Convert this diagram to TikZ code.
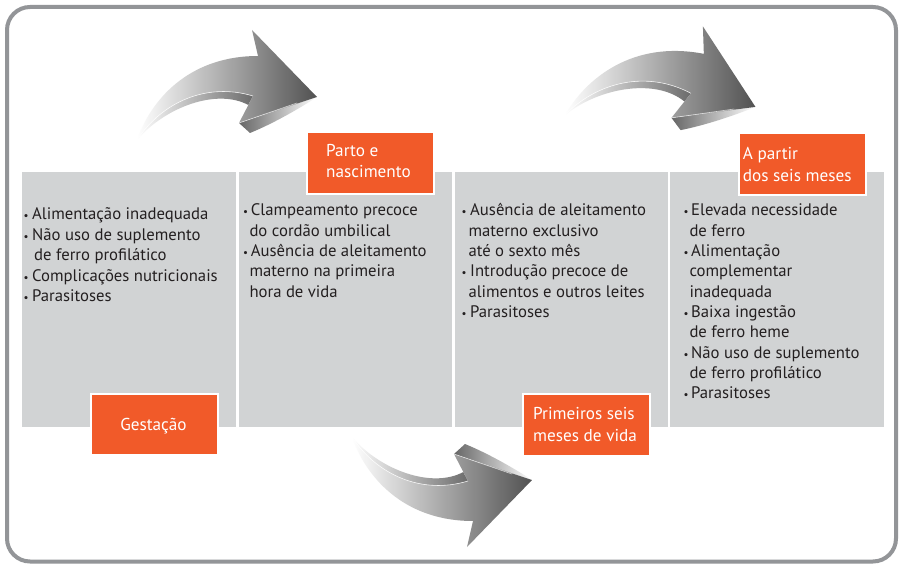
\documentclass[tikz,border=0pt]{standalone}
\usepackage{fontspec}
\setmainfont{PT Sans}
\definecolor{panelgray}{RGB}{209,211,212}
\definecolor{orangebox}{RGB}{241,90,41}
\definecolor{framegray}{RGB}{147,149,152}
\definecolor{txt}{RGB}{35,31,32}
\newcommand{\curvedarrowshape}{%
  % underside band of the shaft
  \shade[left color=white, right color=black!58]
    (0,0) .. controls (28,-33) and (80,-52) .. (111.3,-35) -- (116,-44)
    .. controls (70,-58) and (25,-38) .. (0,0) -- cycle;
  % underside of the head
  \shade[left color=black!60, right color=white]
    (102,-17) -- (113,-7) .. controls (135,-16) and (160,-30) .. (180,-43) -- cycle;
  % top face
  \shade[left color=white, middle color=black!38, right color=black!68]
    (0,0) .. controls (13,-38) and (50,-84) .. (121,-84) -- (115,-110) -- (180,-43)
    -- (102,-17) -- (116,-44) .. controls (70,-58) and (25,-38) .. (0,0) -- cycle;
  % highlights
  \draw[white, line width=0.6pt, opacity=0.8]
    (116,-44) .. controls (70,-58) and (25,-38) .. (0,0);
  \draw[white, line width=0.6pt, opacity=0.7] (102,-17) -- (160,-37);
}
\begin{document}
\begin{tikzpicture}[x=1pt,y=-1pt,
  panel/.style={fill=panelgray, draw=none, inner sep=0pt, anchor=north west,
    minimum height=255pt},
  tag/.style={fill=orangebox, draw=white, line width=2pt, inner sep=0pt,
    anchor=north west, minimum width=127pt, minimum height=62pt},
  body/.style={anchor=base west, inner sep=0pt, text=txt,
    font=\fontsize{16.7}{20}\selectfont},
  bul/.style={anchor=base west, inner sep=0pt, text=txt,
    font=\fontsize{11}{11}\selectfont},
  tagtext/.style={anchor=base west, inner sep=0pt, text=white,
    font=\fontsize{17.2}{20}\selectfont},
]
\useasboundingbox (0,0) rectangle (900,564);
\fill[white] (0,0) rectangle (900,564);
\draw[framegray, line width=4pt, rounded corners=23pt] (7,7) rectangle (896,561.5);

% panels
\node[panel, minimum width=214pt] (p1) at (22,172) {};
\node[panel, minimum width=213pt] (p2) at (239,172) {};
\node[panel, minimum width=212.5pt] (p3) at (455,172) {};
\node[panel, minimum width=214pt] (p4) at (670,172) {};

% arrows
\begin{scope}[shift={(137,140)}]
  \curvedarrowshape
\end{scope}
\begin{scope}[shift={(565,115)}, rotate=-11, scale=1.03]
  \curvedarrowshape
\end{scope}
\begin{scope}[shift={(352,437)}, yscale=-1]
  \curvedarrowshape
\end{scope}

% orange tags
\node[tag, minimum height=61pt] (tag1) at (90,393) {};
\node[tag] (tag2) at (306,131) {};
\node[tag] (tag3) at (522,393) {};
\node[tag] (tag4) at (738,132) {};

\node[tagtext, anchor=base] (t1) at (153.5,430) {Gestação};
\node[tagtext] (t2a) at (326,156.7) {Parto e};
\node[tagtext] (t2b) at (326,178) {nascimento};
\node[tagtext] (t3a) at (533,419.3) {Primeiros seis};
\node[tagtext] (t3b) at (533,441) {meses de vida};
\node[tagtext] (t4a) at (742.7,160) {A partir};
\node[tagtext] (t4b) at (742.7,181.7) {dos seis meses};

% panel 1
\node[bul] (b11) at (23.5,220) {•};
\node[body] (l11) at (32,220) {Alimentação inadequada};
\node[bul] (b12) at (23.5,240.4) {•};
\node[body] (l12) at (32,240.4) {Não uso de suplemento};
\node[body] (l13) at (34,260.8) {de ferro profilático};
\node[bul] (b14) at (23.5,281.2) {•};
\node[body] (l14) at (32,281.2) {Complicações nutricionais};
\node[bul] (b15) at (23.5,301.6) {•};
\node[body] (l15) at (32,301.6) {Parasitoses};

% panel 2
\node[bul] (b21) at (243,216) {•};
\node[body] (l21) at (250.7,216) {Clampeamento precoce};
\node[body] (l22) at (249.3,236.3) {do cordão umbilical};
\node[bul] (b23) at (243,256.6) {•};
\node[body] (l23) at (250.7,256.6) {Ausência de aleitamento};
\node[body] (l24) at (249.3,276.9) {materno na primeira};
\node[body] (l25) at (249.3,297.2) {hora de vida};

% panel 3
\node[bul] (b31) at (461.5,216) {•};
\node[body] (l31) at (470,216) {Ausência de aleitamento};
\node[body] (l32) at (468.3,236.3) {materno exclusivo};
\node[body] (l33) at (468.3,256.6) {até o sexto mês};
\node[bul] (b34) at (461.5,276.9) {•};
\node[body] (l34) at (470,276.9) {Introdução precoce de};
\node[body] (l35) at (468.3,297.2) {alimentos e outros leites};
\node[bul] (b36) at (461.5,317.5) {•};
\node[body] (l36) at (470,317.5) {Parasitoses};

% panel 4
\node[bul] (b41) at (683.5,216) {•};
\node[body] (l41) at (691,216) {Elevada necessidade};
\node[body] (l42) at (689.3,236.3) {de ferro};
\node[bul] (b43) at (683.5,256.6) {•};
\node[body] (l43) at (691,256.6) {Alimentação};
\node[body] (l44) at (689.3,276.9) {complementar};
\node[body] (l45) at (689.3,297.2) {inadequada};
\node[bul] (b46) at (683.5,317.5) {•};
\node[body] (l46) at (691,317.5) {Baixa ingestão};
\node[body] (l47) at (689.3,337.8) {de ferro heme};
\node[bul] (b48) at (683.5,358.1) {•};
\node[body] (l48) at (691,358.1) {Não uso de suplemento};
\node[body] (l49) at (689.3,378.4) {de ferro profilático};
\node[bul] (b410) at (683.5,398.7) {•};
\node[body] (l410) at (691,398.7) {Parasitoses};
\end{tikzpicture}
\end{document}
